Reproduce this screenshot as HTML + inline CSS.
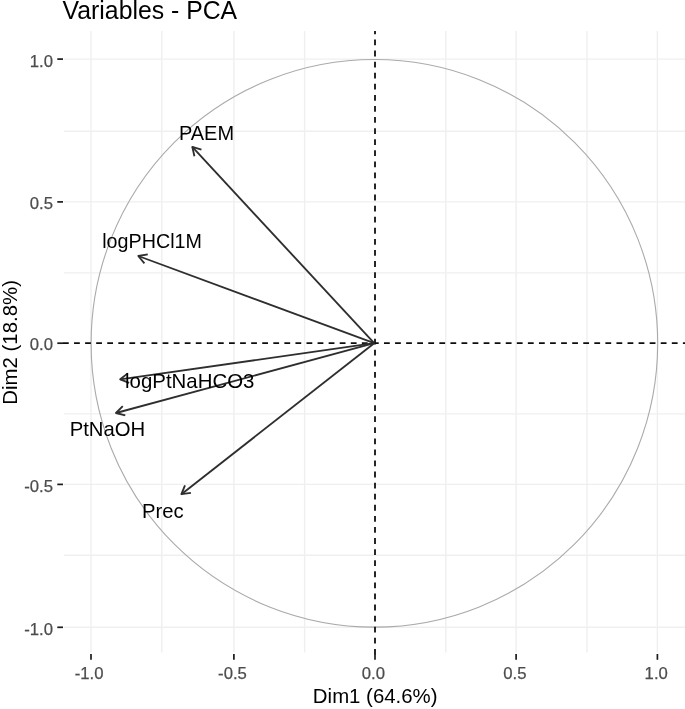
<!DOCTYPE html><html><head><meta charset="utf-8"><style>html,body{margin:0;padding:0;background:#fff;}svg{display:block;}text{font-family:"Liberation Sans",sans-serif;}</style></head><body>
<svg width="685" height="709" viewBox="0 0 685 709">
<rect width="685" height="709" fill="#fff"/>
<defs><filter id="b" x="0" y="0" width="1" height="1"><feGaussianBlur stdDeviation="0.5"/></filter></defs><g filter="url(#b)"><rect width="685" height="709" fill="#fff"/>
<g stroke="#efefef" stroke-width="1.4"><line x1="91.0" y1="30.9" x2="91.0" y2="652.5"/><line x1="161.8" y1="30.9" x2="161.8" y2="652.5"/><line x1="233.9" y1="30.9" x2="233.9" y2="652.5"/><line x1="304.6" y1="30.9" x2="304.6" y2="652.5"/><line x1="445.8" y1="30.9" x2="445.8" y2="652.5"/><line x1="516.1" y1="30.9" x2="516.1" y2="652.5"/><line x1="587.0" y1="30.9" x2="587.0" y2="652.5"/><line x1="657.4" y1="30.9" x2="657.4" y2="652.5"/><line x1="64.0" y1="59.1" x2="685.0" y2="59.1"/><line x1="64.0" y1="131.3" x2="685.0" y2="131.3"/><line x1="64.0" y1="201.9" x2="685.0" y2="201.9"/><line x1="64.0" y1="272.9" x2="685.0" y2="272.9"/><line x1="64.0" y1="413.9" x2="685.0" y2="413.9"/><line x1="64.0" y1="484.4" x2="685.0" y2="484.4"/><line x1="64.0" y1="555.3" x2="685.0" y2="555.3"/><line x1="64.0" y1="627.3" x2="685.0" y2="627.3"/></g>
<ellipse cx="374.4" cy="343.3" rx="283.3" ry="283.8" fill="none" stroke="#aaaaaa" stroke-width="1.1"/>
<line x1="62.5" y1="343.2" x2="685.0" y2="343.2" stroke="#111" stroke-width="1.8" stroke-dasharray="5.8 5.27" stroke-dashoffset="10.61"/>
<line x1="375.0" y1="30.9" x2="375.0" y2="654.5" stroke="#111" stroke-width="1.8" stroke-dasharray="5.8 5.28" stroke-dashoffset="2.48"/>
<g stroke="#2e2e2e" stroke-width="1.85" fill="none" stroke-linejoin="round"><line x1="374.2" y1="343.2" x2="192.3" y2="146.9"/><polyline points="194.43,156.26 192.3,146.9 201.47,149.74"/><line x1="374.2" y1="343.2" x2="138.3" y2="256.0"/><polyline points="144.43,263.38 138.3,256.0 147.76,254.38"/><line x1="374.2" y1="343.2" x2="120.2" y2="379.3"/><polyline points="129.11,382.88 120.2,379.3 127.76,373.38"/><line x1="374.2" y1="343.2" x2="116.0" y2="413.0"/><polyline points="125.28,415.46 116.0,413.0 122.77,406.20"/><line x1="374.2" y1="343.2" x2="181.4" y2="494.2"/><polyline points="190.90,492.85 181.4,494.2 184.99,485.29"/></g>
<g stroke="#1a1a1a" stroke-width="1.7"><line x1="57.3" y1="59.1" x2="63.0" y2="59.1"/><line x1="91.0" y1="654.0" x2="91.0" y2="659.8"/><line x1="57.3" y1="201.9" x2="63.0" y2="201.9"/><line x1="233.9" y1="654.0" x2="233.9" y2="659.8"/><line x1="57.3" y1="343.2" x2="63.0" y2="343.2"/><line x1="375.0" y1="654.0" x2="375.0" y2="659.8"/><line x1="57.3" y1="484.4" x2="63.0" y2="484.4"/><line x1="516.1" y1="654.0" x2="516.1" y2="659.8"/><line x1="57.3" y1="627.3" x2="63.0" y2="627.3"/><line x1="657.4" y1="654.0" x2="657.4" y2="659.8"/></g>
<text transform="translate(62.60,19.00) scale(1,1.04)" font-size="24.8" fill="#000">Variables - PCA</text>
<text transform="translate(178.90,139.60) scale(1,1.03)" font-size="20.3" fill="#000" textLength="55.20" lengthAdjust="spacingAndGlyphs">PAEM</text>
<text transform="translate(102.20,248.00) scale(1,1.03)" font-size="20.3" fill="#000" textLength="99.70" lengthAdjust="spacingAndGlyphs">logPHCl1M</text>
<text transform="translate(125.00,387.60) scale(1,1.03)" font-size="20.3" fill="#000" textLength="129.40" lengthAdjust="spacingAndGlyphs">logPtNaHCO3</text>
<text transform="translate(69.70,435.50) scale(1,1.03)" font-size="20.3" fill="#000">PtNaOH</text>
<text transform="translate(141.90,518.20) scale(1,1.03)" font-size="20.3" fill="#000">Prec</text>
<text transform="translate(375.20,703.40)" font-size="20.4" fill="#000" text-anchor="middle">Dim1 (64.6%)</text>
<text transform="translate(16.60,342.40) rotate(-90)" font-size="20.4" fill="#000" text-anchor="middle">Dim2 (18.8%)</text>
<text transform="translate(53.00,66.50)" font-size="16.7" fill="#4d4d4d" text-anchor="end" stroke="#4d4d4d" stroke-width="0.25">1.0</text>
<text transform="translate(53.00,209.30)" font-size="16.7" fill="#4d4d4d" text-anchor="end" stroke="#4d4d4d" stroke-width="0.25">0.5</text>
<text transform="translate(53.00,349.60)" font-size="16.7" fill="#4d4d4d" text-anchor="end" stroke="#4d4d4d" stroke-width="0.25">0.0</text>
<text transform="translate(53.00,491.80)" font-size="16.7" fill="#4d4d4d" text-anchor="end" stroke="#4d4d4d" stroke-width="0.25">-0.5</text>
<text transform="translate(53.00,634.70)" font-size="16.7" fill="#4d4d4d" text-anchor="end" stroke="#4d4d4d" stroke-width="0.25">-1.0</text>
<text transform="translate(89.05,679.00)" font-size="16.7" fill="#4d4d4d" text-anchor="middle" stroke="#4d4d4d" stroke-width="0.25">-1.0</text>
<text transform="translate(232.45,679.00)" font-size="16.7" fill="#4d4d4d" text-anchor="middle" stroke="#4d4d4d" stroke-width="0.25">-0.5</text>
<text transform="translate(373.35,679.00)" font-size="16.7" fill="#4d4d4d" text-anchor="middle" stroke="#4d4d4d" stroke-width="0.25">0.0</text>
<text transform="translate(514.90,679.00)" font-size="16.7" fill="#4d4d4d" text-anchor="middle" stroke="#4d4d4d" stroke-width="0.25">0.5</text>
<text transform="translate(656.20,679.00)" font-size="16.7" fill="#4d4d4d" text-anchor="middle" stroke="#4d4d4d" stroke-width="0.25">1.0</text>
</g>
</svg></body></html>
